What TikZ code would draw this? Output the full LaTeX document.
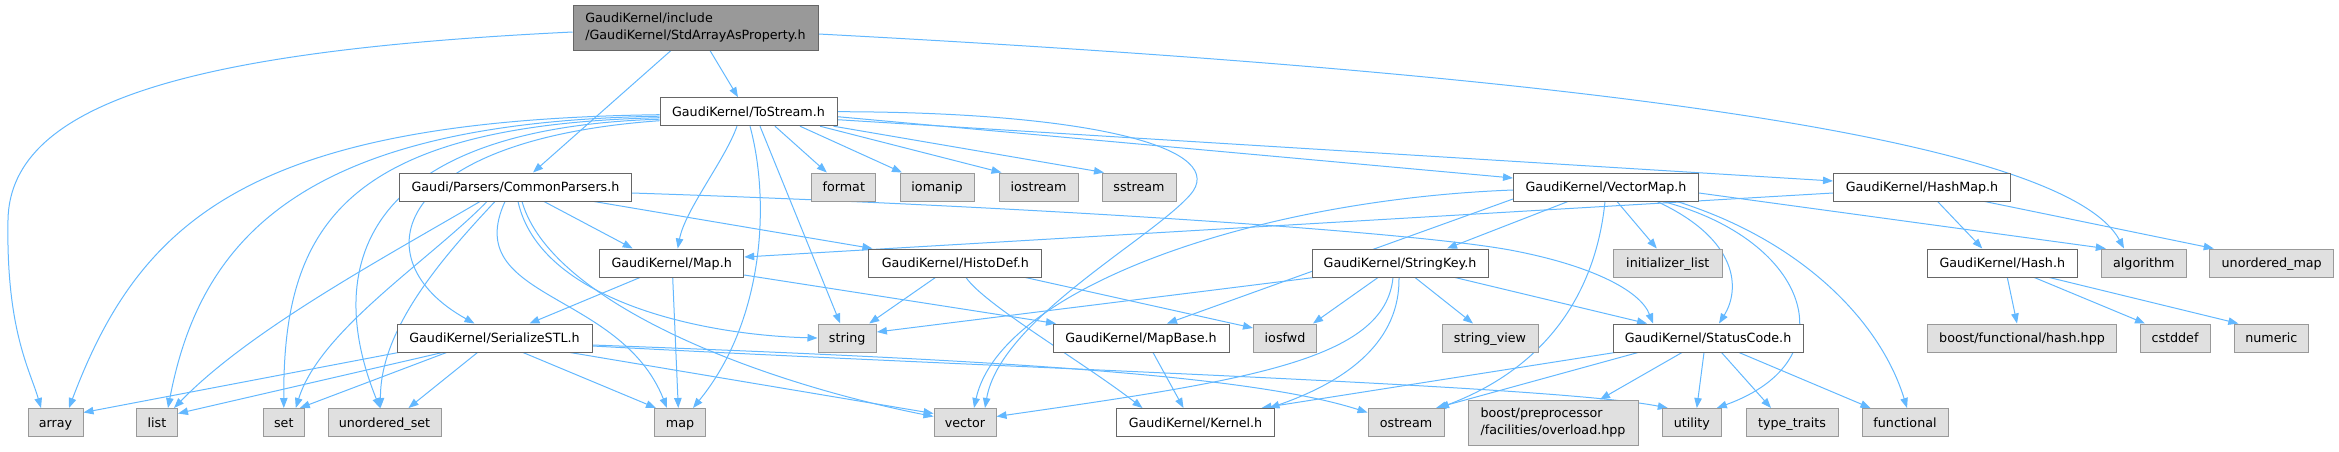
\documentclass[tikz,border=0pt]{standalone}
\usepackage{fontspec}
\setmainfont{DejaVu Sans}
\usetikzlibrary{arrows.meta,backgrounds}
\definecolor{edgec}{HTML}{63B8FF}
\definecolor{leaffill}{HTML}{E0E0E0}
\definecolor{leafdraw}{HTML}{999999}
\definecolor{nodedraw}{HTML}{666666}
\definecolor{rootfill}{HTML}{999999}
\begin{document}
\begin{tikzpicture}[x=1pt,y=-1pt,
  boxbase/.style={rectangle, inner sep=0pt, minimum height=28pt, line width=1pt,
    font=\fontsize{12.7pt}{16.7pt}\selectfont},
  one/.style={text height=9.26pt, text depth=0pt},
  hdr/.style={boxbase, one, draw=nodedraw, fill=white},
  leaf/.style={boxbase, one, draw=leafdraw, fill=leaffill},
  e/.style={draw=edgec, line width=1pt, -{Triangle[length=10pt,width=7.5pt]}}
]
\useasboundingbox (0,0) rectangle (2339,451);

% row 1-2
\node[boxbase, draw=nodedraw, fill=rootfill, minimum width=245pt, minimum height=45pt, align=left] (root) at (695.5,27.5) {GaudiKernel/include\\/GaudiKernel/StdArrayAsProperty.h};
\node[hdr, minimum width=177pt] (ts) at (748.5,111.7) {GaudiKernel/ToStream.h};
% row 3
\node[hdr, minimum width=232pt] (cp) at (515.5,187) {Gaudi/Parsers/CommonParsers.h};
\node[leaf, minimum width=64pt] (fmt) at (843.8,187) {format};
\node[leaf, minimum width=74pt] (iomanip) at (937,187) {iomanip};
\node[leaf, minimum width=79pt] (iostream) at (1038.5,187) {iostream};
\node[leaf, minimum width=74pt] (sstream) at (1139,187) {sstream};
\node[hdr, minimum width=185pt] (vmap) at (1606,187) {GaudiKernel/VectorMap.h};
\node[hdr, minimum width=177pt] (hmap) at (1922,187) {GaudiKernel/HashMap.h};
% row 4
\node[hdr, minimum width=144pt] (maph) at (671.7,263) {GaudiKernel/Map.h};
\node[hdr, minimum width=173pt] (histo) at (955.4,263) {GaudiKernel/HistoDef.h};
\node[hdr, minimum width=176pt] (skey) at (1400,263) {GaudiKernel/StringKey.h};
\node[leaf, minimum width=109.5pt] (initl) at (1667.8,263) {initializer\_list};
\node[hdr, minimum width=149.4pt] (hashh) at (2002.3,263) {GaudiKernel/Hash.h};
\node[leaf, minimum width=84.5pt] (algo) at (2143.8,263) {algorithm};
\node[leaf, minimum width=123.7pt] (umap) at (2271.7,263) {unordered\_map};
% row 5
\node[hdr, minimum width=195pt] (ser) at (494.5,338) {GaudiKernel/SerializeSTL.h};
\node[leaf, minimum width=58.4pt] (str) at (847.2,338) {string};
\node[hdr, minimum width=176pt] (mbase) at (1141,338) {GaudiKernel/MapBase.h};
\node[leaf, minimum width=63pt] (iosfwd) at (1285,338) {iosfwd};
\node[leaf, minimum width=96pt] (sview) at (1490,338) {string\_view};
\node[hdr, minimum width=190pt] (sc) at (1708,338) {GaudiKernel/StatusCode.h};
\node[leaf, minimum width=189pt] (bfh) at (2022,338) {boost/functional/hash.hpp};
\node[leaf, minimum width=70pt] (cstddef) at (2175,338) {cstddef};
\node[leaf, minimum width=74.6pt] (numeric) at (2271.3,338) {numeric};
% row 6
\node[leaf, minimum width=55pt] (array) at (55.5,422.5) {array};
\node[leaf, minimum width=41pt] (list) at (157,422.5) {list};
\node[leaf, minimum width=41.6pt] (set) at (283.8,422.5) {set};
\node[leaf, minimum width=113pt] (uset) at (384.5,422.5) {unordered\_set};
\node[leaf, minimum width=51pt] (map) at (680,422.5) {map};
\node[leaf, minimum width=62pt] (vector) at (965,422.5) {vector};
\node[hdr, minimum width=157.7pt] (kernel) at (1195.5,422.5) {GaudiKernel/Kernel.h};
\node[leaf, minimum width=76pt] (ostream) at (1406,422.5) {ostream};
\node[boxbase, draw=leafdraw, fill=leaffill, minimum width=170pt, minimum height=45pt, align=left] (bpp) at (1553,422.5) {boost/preprocessor\\/facilities/overload.hpp};
\node[leaf, minimum width=59.5pt] (utility) at (1691.8,422.5) {utility};
\node[leaf, minimum width=92pt] (ttraits) at (1792,422.5) {type\_traits};
\node[leaf, minimum width=86pt] (functional) at (1905,422.5) {functional};

\begin{scope}[on background layer]
% root
\draw[e] ([yshift=-4.5]root.west) .. controls (200,50) and (10,100) .. (8,220) .. controls (6,330) and (30,370) .. ([xshift=-14.5]array.north);
\draw[e] ([xshift=-24.5]root.south) -- ([xshift=17.5]cp.north);
\draw[e] ([xshift=14.5]root.south) -- ([xshift=-10.5]ts.north);
\draw[e] ([yshift=-6.5]root.east) .. controls (1500,70) and (2060,130) .. ([xshift=-19.8]algo.north);
% ToStream
\draw[e] ([yshift=-3]ts.west) .. controls (250,120) and (140,220) .. ([xshift=13.5]array.north);
\draw[e] ([yshift=-4.5]ts.west) .. controls (300,122) and (200,240) .. ([xshift=11]list.north);
\draw[e] ([yshift=-6]ts.west) .. controls (340,125) and (283,230) .. (set.north);
\draw[e] ([yshift=-7.5]ts.west) .. controls (370,128) and (320,260) .. ([xshift=-4.5]uset.north);
\draw[e] ([yshift=-9]ts.west) .. controls (390,140) and (360,260) .. ([xshift=-20]ser.north);
\draw[e] ([xshift=-11.5]ts.south) .. controls (725,160) and (685,210) .. ([xshift=6]maph.north);
\draw[e] ([xshift=1.5]ts.south) .. controls (770,200) and (765,320) .. ([xshift=13]map.north);
\draw[e] ([xshift=11.5]ts.south) -- ([xshift=-7]str.north);
\draw[e] (ts.east) .. controls (1100,112) and (1230,150) .. (1190,195) .. controls (1150,240) and (1000,320) .. ([xshift=20]vector.north);
\draw[e] ([xshift=26.5]ts.south) -- ([xshift=-17]fmt.north);
\draw[e] ([xshift=51.5]ts.south) -- ([xshift=-35]iomanip.north);
\draw[e] ([xshift=71.5]ts.south) -- ([xshift=-37]iostream.north);
\draw[e] ([xshift=85]ts.south) -- ([xshift=-35]sstream.north);
\draw[e] ([yshift=-5]ts.east) -- ([yshift=9]vmap.west);
\draw[e] ([yshift=-8]ts.east) -- ([yshift=6]hmap.west);
% CommonParsers
\draw[e] ([xshift=-35.5]cp.south) .. controls (380,260) and (250,330) .. ([xshift=17]list.north);
\draw[e] ([xshift=-28.5]cp.south) .. controls (430,260) and (320,330) .. ([xshift=12]set.north);
\draw[e] ([xshift=-20.5]cp.south) .. controls (440,260) and (380,330) .. ([xshift=-4]uset.north);
\draw[e] ([xshift=-10.5]cp.south) .. controls (460,300) and (620,290) .. ([xshift=-13]map.north);
\draw[e] ([xshift=28.5]cp.south) -- ([xshift=-39]maph.north);
\draw[e] ([xshift=78.5]cp.south) -- ([xshift=-83]histo.north);
\draw[e] ([yshift=-6]cp.east) .. controls (1000,205) and (1400,230) .. (1510,250) .. controls (1590,265) and (1640,290) .. ([xshift=-55]sc.north);
\draw[e] ([xshift=2.5]cp.south) .. controls (540,300) and (700,335) .. (str.west);
\draw[e] ([xshift=6.5]cp.south) .. controls (550,300) and (750,380) .. ([yshift=6]vector.west);
% Map.h
\draw[e] ([xshift=-31.7]maph.south) -- ([xshift=35]ser.north);
\draw[e] ([xshift=1]maph.south) -- ([xshift=-1.7]map.north);
\draw[e] ([yshift=-12]maph.east) -- ([xshift=-85]mbase.north);
% HistoDef
\draw[e] ([xshift=-20]histo.south) -- ([xshift=22]str.north);
\draw[e] ([xshift=10.6]histo.south) .. controls (985,305) and (1080,360) .. ([xshift=-53]kernel.north);
\draw[e] ([xshift=70]histo.south) -- ([yshift=10]iosfwd.west);
% VectorMap
\draw[e] ([yshift=-3]vmap.west) .. controls (1250,200) and (1000,290) .. ([xshift=9]vector.north);
\draw[e] ([yshift=-12]vmap.west) -- ([xshift=26]mbase.north);
\draw[e] ([xshift=-38]vmap.south) -- ([xshift=47]skey.north);
\draw[e] ([xshift=11]vmap.south) -- ([xshift=-11]initl.north);
\draw[e] ([xshift=-1]vmap.south) .. controls (1595,300) and (1540,370) .. ([xshift=33]ostream.north);
\draw[e] ([xshift=51]vmap.south) .. controls (1740,240) and (1740,290) .. ([xshift=11]sc.north);
\draw[e] ([xshift=57]vmap.south) .. controls (1810,240) and (1850,360) .. ([xshift=25]utility.north);
\draw[e] ([xshift=71]vmap.south) .. controls (1800,240) and (1880,320) .. ([xshift=2]functional.north);
\draw[e] ([yshift=-6]vmap.east) -- ([xshift=-38]algo.north);
% HashMap
\draw[e] ([yshift=-6]hmap.west) -- ([yshift=6]maph.east);
\draw[e] ([xshift=15.6]hmap.south) -- ([xshift=-20]hashh.north);
\draw[e] ([xshift=62.7]hmap.south) -- ([xshift=-58]umap.north);
% Hash.h
\draw[e] ([xshift=5]hashh.south) -- ([xshift=-5]bfh.north);
\draw[e] ([xshift=32]hashh.south) -- ([xshift=-30]cstddef.north);
\draw[e] ([xshift=47]hashh.south) -- ([xshift=-33]numeric.north);
% StringKey
\draw[e] ([xshift=-86]skey.south) -- ([yshift=6]str.east);
\draw[e] ([xshift=-22]skey.south) -- ([xshift=28]iosfwd.north);
\draw[e] ([xshift=-7]skey.south) .. controls (1385,360) and (1250,380) .. ([yshift=6]vector.east);
\draw[e] ([xshift=-1]skey.south) .. controls (1400,340) and (1350,380) .. ([xshift=74]kernel.north);
\draw[e] ([xshift=15]skey.south) -- ([xshift=-17]sview.north);
\draw[e] ([xshift=55]skey.south) -- ([xshift=-61]sc.north);
% MapBase
\draw[e] ([xshift=12]mbase.south) -- ([xshift=-12]kernel.north);
% StatusCode
\draw[e] ([xshift=-93]sc.south) -- ([xshift=66]kernel.north);
\draw[e] ([xshift=-70]sc.south) -- ([xshift=30]ostream.north);
\draw[e] ([xshift=-26]sc.south) -- ([xshift=47]bpp.north);
\draw[e] ([xshift=-4]sc.south) -- ([xshift=5]utility.north);
\draw[e] ([xshift=13.5]sc.south) -- ([xshift=-21]ttraits.north);
\draw[e] ([xshift=31]sc.south) -- ([xshift=-34.5]functional.north);
% SerializeSTL
\draw[e] ([xshift=-96]ser.south) -- ([yshift=10]array.east);
\draw[e] ([xshift=-52]ser.south) -- ([yshift=9]list.east);
\draw[e] ([xshift=-48]ser.south) -- ([xshift=16]set.north);
\draw[e] ([xshift=-17]ser.south) -- ([xshift=24]uset.north);
\draw[e] ([xshift=28.5]ser.south) -- ([xshift=-24]map.north);
\draw[e] ([xshift=75.5]ser.south) -- ([yshift=9]vector.west);
\draw[e] ([yshift=-7]ser.east) .. controls (1000,360) and (1250,375) .. ([yshift=10]ostream.west);
\draw[e] ([yshift=-8]ser.east) .. controls (1000,368) and (1550,385) .. ([xshift=-24]utility.north);
\end{scope}
\end{tikzpicture}
\end{document}
